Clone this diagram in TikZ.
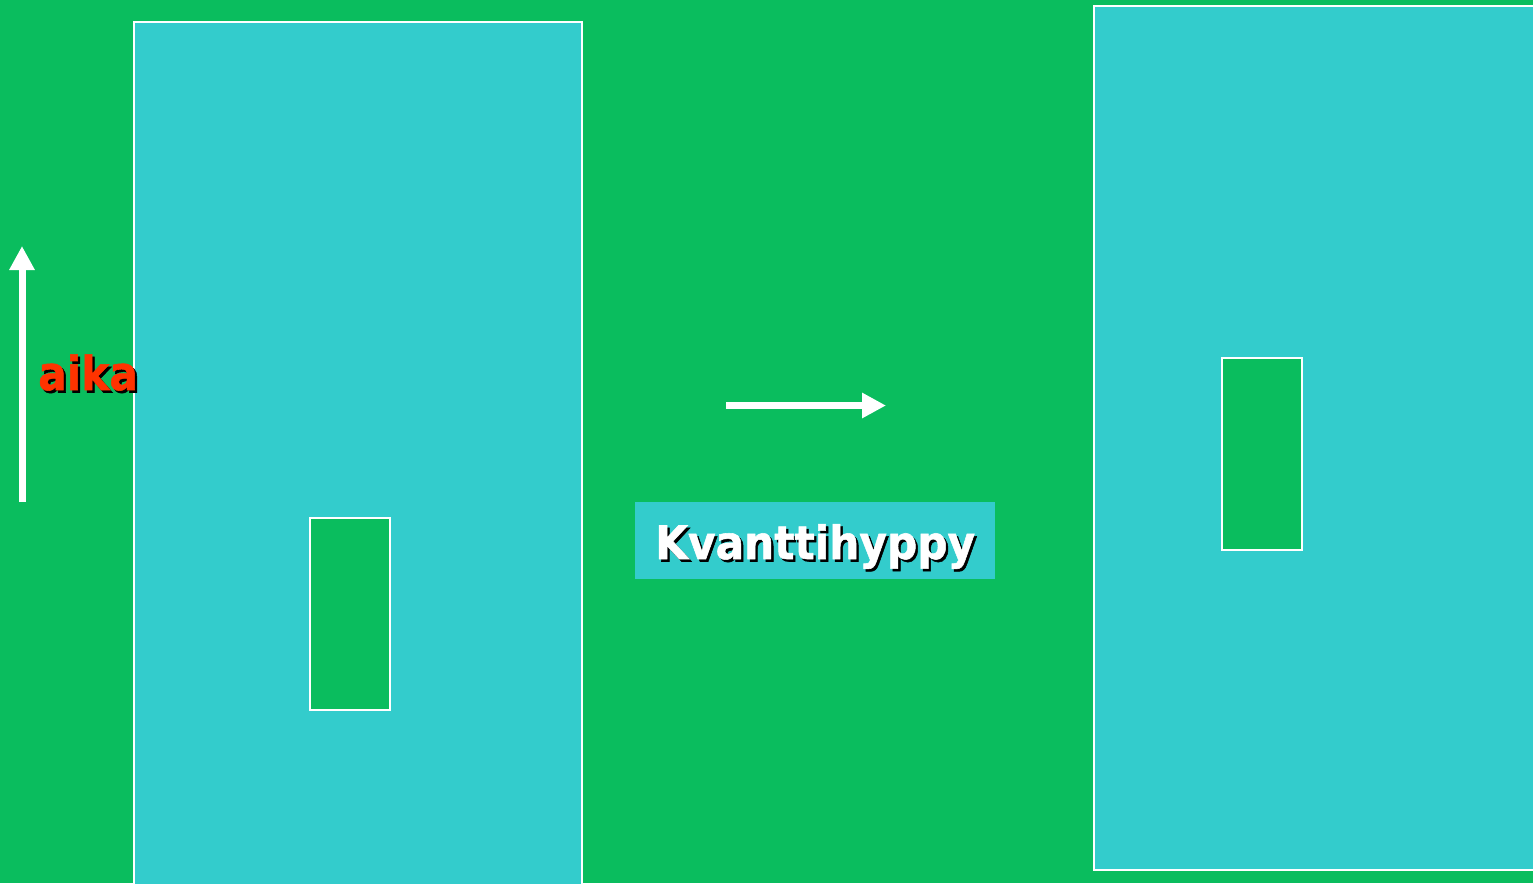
\documentclass[tikz,border=0pt]{standalone}
\usepackage{fontspec}
\setmainfont{DejaVu Sans}
\newfontfamily\heavyfont[FakeBold=1.2]{DejaVu Sans Bold}
\usetikzlibrary{arrows.meta}
\definecolor{bggreen}{RGB}{10,189,94}
\definecolor{panelcyan}{RGB}{51,204,204}
\definecolor{labelred}{RGB}{255,51,0}
\tikzset{
  panel/.style={fill=panelcyan, draw=white, line width=1.5pt},
  inner/.style={fill=bggreen, draw=white, line width=1.5pt},
  bigarrow/.style={draw=white, line width=7pt, -{Triangle[length=24pt,width=24pt]}},
}
\newcommand{\shadowtext}[3]{% colour, xscale, text
  \scalebox{#2}[1]{\rlap{\hspace{2.5pt}\raisebox{-2.5pt}{\color{black}#3}}\color{#1}#3}}
\begin{document}
\begin{tikzpicture}[x=1pt,y=-1pt]
\fill[bggreen] (0,0) rectangle (1533,883);
\useasboundingbox (0,0) rectangle (1533,883);
% left panel
\path[panel] (134,22) rectangle (582,900);
\path[inner] (310,518) rectangle (390,710);
% right panel
\path[panel] (1094,6) rectangle (1550,870);
\path[inner] (1222,358) rectangle (1302,550);
% time arrow
\coordinate (tstart) at (22,502);
\coordinate (tend) at (22,246);
\draw[bigarrow] (tstart) -- (tend);
\node[anchor=base west, inner sep=0pt, font=\heavyfont\fontsize{47}{47}\selectfont] (aika) at (38,390) {\shadowtext{labelred}{0.9}{aika}};
% jump arrow
\coordinate (jstart) at (726,405.5);
\coordinate (jend) at (886,405.5);
\draw[bigarrow] (jstart) -- (jend);
% label box
\path[fill=panelcyan] (635,502) rectangle (995,579);
\node[anchor=base west, inner sep=0pt, font=\heavyfont\fontsize{46}{46}\selectfont, text=white] (kv) at (655,559) {\shadowtext{white}{0.92}{Kvanttihyppy}};
\end{tikzpicture}
\end{document}
